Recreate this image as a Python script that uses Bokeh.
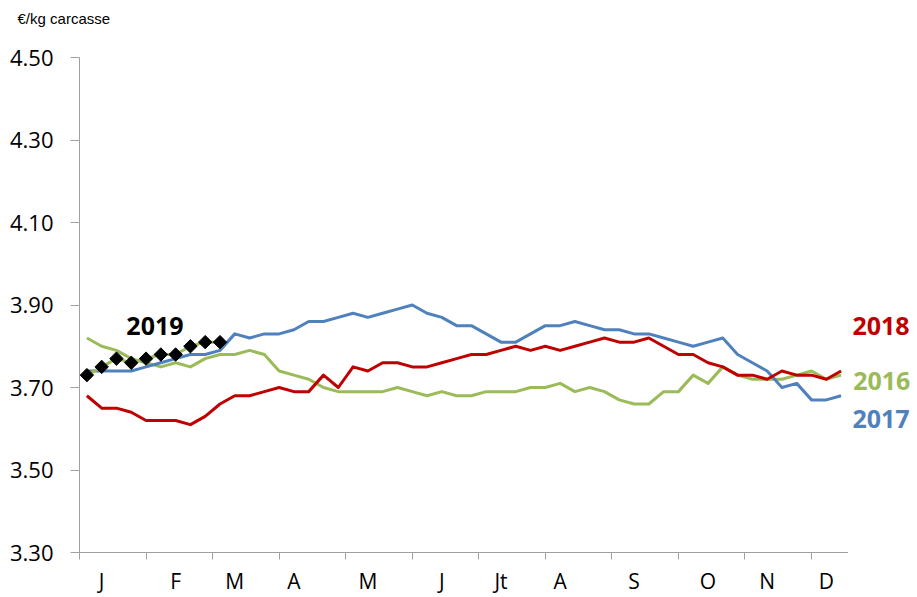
from bokeh.plotting import figure
from bokeh.models import Range1d, FixedTicker, PrintfTickFormatter
from bokeh.layouts import row, column
from bokeh.core.properties import value
from bokeh.embed import file_html
from bokeh.resources import INLINE

# ---- data (weekly prices, €/kg carcasse) ----
weeks = list(range(1, 53))
y2016 = [3.82, 3.80, 3.79, 3.77, 3.76, 3.75, 3.76, 3.75, 3.77, 3.78,
         3.78, 3.79, 3.78, 3.74, 3.73, 3.72, 3.70, 3.69, 3.69, 3.69,
         3.69, 3.70, 3.69, 3.68, 3.69, 3.68, 3.68, 3.69, 3.69, 3.69,
         3.70, 3.70, 3.71, 3.69, 3.70, 3.69, 3.67, 3.66, 3.66, 3.69,
         3.69, 3.73, 3.71, 3.75, 3.73, 3.72, 3.72, 3.72, 3.73, 3.74,
         3.72, 3.73]
y2017 = [3.74, 3.74, 3.74, 3.74, 3.75, 3.76, 3.77, 3.78, 3.78, 3.79,
         3.83, 3.82, 3.83, 3.83, 3.84, 3.86, 3.86, 3.87, 3.88, 3.87,
         3.88, 3.89, 3.90, 3.88, 3.87, 3.85, 3.85, 3.83, 3.81, 3.81,
         3.83, 3.85, 3.85, 3.86, 3.85, 3.84, 3.84, 3.83, 3.83, 3.82,
         3.81, 3.80, 3.81, 3.82, 3.78, 3.76, 3.74, 3.70, 3.71, 3.67,
         3.67, 3.68]
y2018 = [3.68, 3.65, 3.65, 3.64, 3.62, 3.62, 3.62, 3.61, 3.63, 3.66,
         3.68, 3.68, 3.69, 3.70, 3.69, 3.69, 3.73, 3.70, 3.75, 3.74,
         3.76, 3.76, 3.75, 3.75, 3.76, 3.77, 3.78, 3.78, 3.79, 3.80,
         3.79, 3.80, 3.79, 3.80, 3.81, 3.82, 3.81, 3.81, 3.82, 3.80,
         3.78, 3.78, 3.76, 3.75, 3.73, 3.73, 3.72, 3.74, 3.73, 3.73,
         3.72, 3.74]
weeks2019 = list(range(1, 11))
y2019 = [3.73, 3.75, 3.77, 3.76, 3.77, 3.78, 3.78, 3.80, 3.81, 3.81]

month_labels = ["J", "F", "M", "A", "M", "J", "Jt", "A", "S", "O", "N", "D"]
month_label_weeks = [2, 7, 11, 15, 20, 25, 29, 33, 38, 43, 47, 51]
month_boundaries = [0, 4.5, 9, 13.5, 18, 22.5, 27, 31.5, 36, 40.5, 45, 49.5]
y_ticks = [3.30, 3.50, 3.70, 3.90, 4.10, 4.30, 4.50]
series_names = ["2018", "2016", "2017"]
unit_label = "€/kg carcasse"

C16, C17, C18 = "#9BBB59", "#4F81BD", "#C00000"
AXIS = "#A0A0A0"
FONT = "Open Sans"
WPX = 14.79  # pixels per week


def xpos(w):
    return [v - 0.5 for v in w]


HEAD = 30
TOP, BOTTOM = 57 - HEAD, 44
H = 597 - HEAD

# header strip with the unit
head = figure(width=917, height=HEAD, x_range=Range1d(-79 / WPX, 838 / WPX), y_range=Range1d(0, HEAD),
              output_backend="svg", toolbar_location=None, x_axis_type=None, y_axis_type=None,
              min_border_left=0, min_border_right=0, min_border_top=0, min_border_bottom=0)
head.grid.visible = False
head.outline_line_color = None
head.text(x=[-4.19], y=[12.5], text=[unit_label], text_color="black",
          text_font=value("Liberation Sans"), text_font_size="15px",
          text_align="left", text_baseline="middle")

p = figure(width=848, height=H, x_range=Range1d(0, 52), y_range=Range1d(3.30, 4.50),
           output_backend="svg", toolbar_location=None,
           min_border_left=79, min_border_right=0, min_border_top=TOP, min_border_bottom=BOTTOM)
p.grid.visible = False
p.outline_line_color = None

# y axis
p.yaxis.ticker = FixedTicker(ticks=y_ticks)
p.yaxis.formatter = PrintfTickFormatter(format="%.2f")
p.yaxis.axis_line_color = AXIS
p.yaxis.major_tick_line_color = AXIS
p.yaxis.major_tick_out = 9
p.yaxis.major_tick_in = 0
p.yaxis.minor_tick_line_color = None
p.yaxis.major_label_standoff = 17
p.yaxis.major_label_text_font = FONT
p.yaxis.major_label_text_font_size = "22px"
p.yaxis.major_label_text_color = "black"

# x axis
lab_pos = xpos(month_label_weeks)
p.xaxis.ticker = FixedTicker(ticks=lab_pos, minor_ticks=month_boundaries)
p.xaxis.major_label_overrides = {pos: lab for pos, lab in zip(lab_pos, month_labels)}
p.xaxis.axis_line_color = AXIS
p.xaxis.major_tick_line_color = None
p.xaxis.major_tick_out = 0
p.xaxis.major_tick_in = 0
p.xaxis.minor_tick_line_color = AXIS
p.xaxis.minor_tick_out = 7
p.xaxis.minor_tick_in = 0
p.xaxis.major_label_standoff = 7
p.xaxis.major_label_text_font = FONT
p.xaxis.major_label_text_font_size = "21px"
p.xaxis.major_label_text_color = "black"

# lines
p.line(xpos(weeks), y2016, line_color=C16, line_width=3, line_join="round")
p.line(xpos(weeks), y2017, line_color=C17, line_width=3, line_join="round")
p.line(xpos(weeks), y2018, line_color=C18, line_width=3, line_join="round")
p.line(xpos(weeks2019), y2019, line_color=C16, line_width=3, line_join="round")
p.scatter(xpos(weeks2019), y2019, marker="square", size=9.5, angle=0.785398,
          fill_color="black", line_color="black")
p.text(x=[5.1], y=[3.848], text=["2019"], text_color="black",
       text_font=value(FONT), text_font_size="25px", text_font_style="bold",
       text_align="center", text_baseline="alphabetic")

# right-hand strip with the series names
p2 = figure(width=69, height=H, x_range=Range1d(52, 52 + 69 / WPX), y_range=p.y_range,
            output_backend="svg", toolbar_location=None,
            x_axis_type=None, y_axis_type=None,
            min_border_left=0, min_border_right=0, min_border_top=TOP, min_border_bottom=BOTTOM)
p2.grid.visible = False
p2.outline_line_color = None
p2.text(x=[54.2, 54.25, 54.2], y=[3.848, 3.716, 3.624], text=series_names,
        text_color=[C18, C16, C17], text_font=value(FONT), text_font_size="25px",
        text_font_style="bold", text_align="center", text_baseline="alphabetic")

layout = column(head, row(p, p2, spacing=0), spacing=0)
open("out.html", "w").write(file_html(layout, INLINE))
